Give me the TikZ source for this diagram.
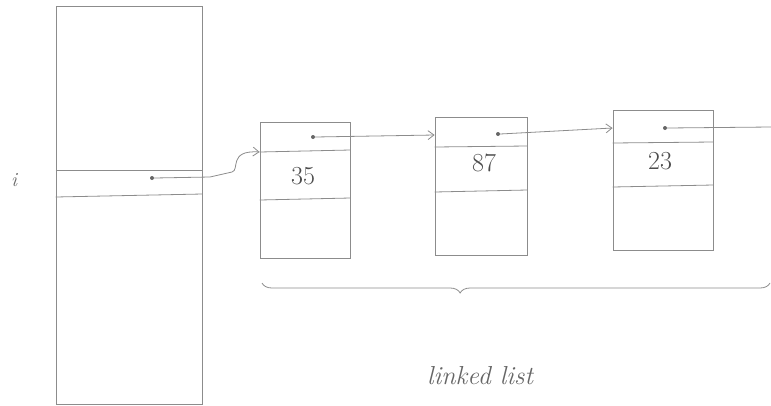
\documentclass[tikz,border=0pt]{standalone}
\usetikzlibrary{arrows.meta,decorations.pathreplacing}
\begin{document}
\begin{tikzpicture}[x=1pt,y=-1pt,
  pencil/.style={draw=black!45,line width=0.8pt},
  cell/.style={pencil,rectangle,inner sep=0pt},
  dotmark/.style={circle,fill=black!60,inner sep=0pt,minimum size=4pt},
  num/.style={text=black!70,font=\fontsize{26}{28}\selectfont},
  ptr/.style={pencil,-{Straight Barb[length=6pt,width=9pt]}}]
\useasboundingbox (0,0) rectangle (771,405);
% array
\node[cell,minimum width=146pt,minimum height=398pt] (arr) at (129,205) {};
\draw[pencil] (arr.west |- 0,170) coordinate (a1) -- (arr.east |- 0,170);
\draw[pencil] (arr.west |- 0,197) coordinate (a2) -- (arr.east |- 0,194);
\node[dotmark] (p0) at (152,178) {};
\node[text=black!60,font=\fontsize{20}{22}\selectfont\itshape] (ilab) at (14,180) {i};
% list nodes
\node[cell,minimum width=90pt,minimum height=136pt] (n1) at (305,190) {};
\draw[pencil] (n1.west |- 0,152) -- (n1.east |- 0,150);
\draw[pencil] (n1.west |- 0,200) -- (n1.east |- 0,198);
\node[dotmark] (p1) at (313,137) {};
\node[num] (v1) at (303,176) {35};

\node[cell,minimum width=92pt,minimum height=138pt] (n2) at (481,186) {};
\draw[pencil] (n2.west |- 0,147) -- (n2.east |- 0,146);
\draw[pencil] (n2.west |- 0,192) -- (n2.east |- 0,190);
\node[dotmark] (p2) at (498,134) {};
\node[num] (v2) at (484,163) {87};

\node[cell,minimum width=100pt,minimum height=140pt] (n3) at (663,180) {};
\draw[pencil] (n3.west |- 0,143) -- (n3.east |- 0,142);
\draw[pencil] (n3.west |- 0,187) -- (n3.east |- 0,185);
\node[dotmark] (p3) at (665,128) {};
\node[num] (v3) at (660,161) {23};
\coordinate (end) at (771,127);

% pointers
\draw[ptr] (p0.east) -- (210,177) -- (232,172) .. controls (240,170) and (228,150) .. (n1.west |- 0,152);
\draw[ptr] (p1.east) -- (n2.west |- 0,135);
\draw[ptr] (p2.east) -- (n3.west |- 0,128);
\draw[pencil] (p3.east) -- (end);

% brace
\coordinate (b1) at (262,283);
\coordinate (b2) at (770,283);
\draw[pencil,decorate,decoration={brace,mirror,amplitude=10pt,aspect=0.39}] (b1) -- (b2);
\node[text=black!60,font=\fontsize{26}{28}\selectfont\itshape] (lab) at (480,376) {linked list};
\end{tikzpicture}
\end{document}
